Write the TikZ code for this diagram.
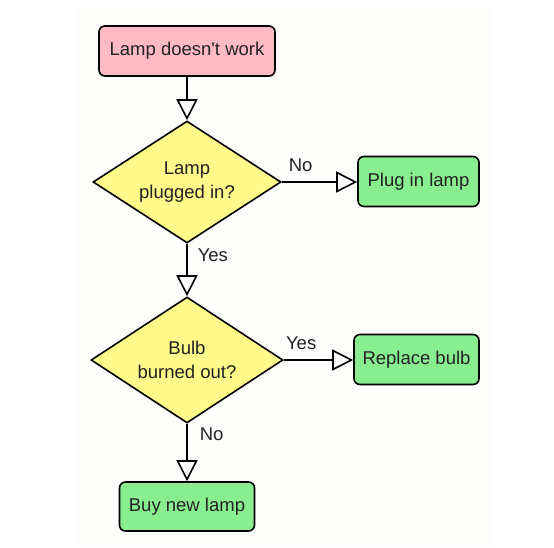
\documentclass[tikz,border=0pt]{standalone}
\usepackage{fontspec}
\setmainfont{Liberation Sans}
\usetikzlibrary{shapes.geometric,arrows.meta}
\definecolor{pinkfill}{HTML}{FFBAC4}
\definecolor{greenfill}{HTML}{88EE90}
\definecolor{yellowfill}{HTML}{FFFA8A}
\definecolor{bgpaper}{HTML}{FDFDFB}
\definecolor{txt}{HTML}{222222}
\begin{document}
\begin{tikzpicture}[x=1pt,y=-1pt,
  every node/.style={font=\fontsize{18.5}{24.5}\selectfont, text=txt},
  box/.style={draw=black, line width=1.6pt, rounded corners=6pt, inner sep=0pt, minimum height=50pt},
  dec/.style={diamond, draw=black, line width=1.6pt, fill=yellowfill, inner sep=0pt, minimum width=190pt, minimum height=124pt, aspect=1.53, align=center},
  conn/.style={draw=black, line width=1.6pt, -{Triangle[open, length=21pt, width=21pt]}},
  lbl/.style={inner sep=0pt}]
\useasboundingbox (0,0) rectangle (554,547);
\fill[bgpaper] (77,8) rectangle (493,547);

\node[box, fill=pinkfill, minimum width=176pt] (start) at (187,51) {Lamp doesn\textquotesingle t work};
\node[dec, minimum height=122pt, minimum width=188pt] (d1) at (187,182) {Lamp\\plugged in?};
\node[box, fill=greenfill, minimum width=121pt] (plug) at (418.5,181.5) {Plug in lamp};
\node[dec, minimum height=126pt, minimum width=192pt] (d2) at (187,360) {Bulb\\burned out?};
\node[box, fill=greenfill, minimum width=125pt] (repl) at (416.5,359.5) {Replace bulb};
\node[box, fill=greenfill, minimum width=135pt, minimum height=49pt] (buy) at (187,506.5) {Buy new lamp};

\draw[conn] (start) -- (d1);
\draw[conn] (d1.east) -- (d1.east -| plug.west) node[lbl, pos=0.25, anchor=base, yshift=11pt] {No};
\draw[conn] (d1) -- (d2) node[lbl, pos=0.345, anchor=base west, xshift=10pt] {Yes};
\draw[conn] (d2.east) -- (d2.east -| repl.west) node[lbl, pos=0.25, anchor=base, yshift=11pt] {Yes};
\draw[conn] (d2.south) -- (buy.north) node[lbl, pos=0.29, anchor=base west, xshift=12pt] {No};
\end{tikzpicture}
\end{document}
